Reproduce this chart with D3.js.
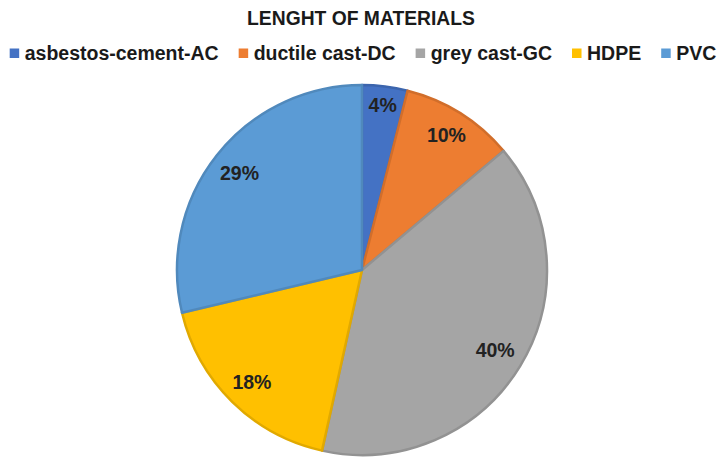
<!DOCTYPE html>
<html><head><meta charset="utf-8">
<script src="https://cdn.jsdelivr.net/npm/d3@7"></script>
<style>html,body{margin:0;padding:0;background:#fff;}svg{display:block;font-family:"Liberation Sans",Arial,sans-serif;}</style>
</head><body>
<svg id="c" width="718" height="459"></svg>
<script>
const title = "LENGHT OF MATERIALS";
const categories = ["asbestos-cement-AC", "ductile cast-DC", "grey cast-GC", "HDPE", "PVC"];
const values = [4, 10, 40, 18, 29];
const colors = ["#4472C4", "#ED7D31", "#A5A5A5", "#FFC000", "#5B9BD5"];

const svg = d3.select("#c");
const W = 718, H = 459;
const cx = 362, cy = 270, R = 185;

svg.append("text").attr("x", 361).attr("y", 25).attr("text-anchor", "middle")
  .style("font-size", "19.3px").style("font-weight", "bold").attr("fill", "#1a1a1a").text(title);

// legend
const leg = svg.append("g");
let x = 0;
categories.forEach((c, i) => {
  const g = leg.append("g");
  g.append("rect").attr("x", 0).attr("y", -4.5).attr("width", 9.5).attr("height", 9.5).attr("fill", colors[i]);
  const t = g.append("text").attr("x", 15).attr("y", 7).style("font-size", "19.5px").style("font-weight", "bold")
    .attr("fill", "#1a1a1a").text(c);
  const w = 15 + t.node().getComputedTextLength();
  g.attr("transform", `translate(${x},53)`);
  x += w + 20;
});
const total = x - 20;
leg.attr("transform", `translate(${(W - total) / 2 + 4},0)`);

const pie = d3.pie().sort(null).value(d => d);
const arcs = pie(values);
const arc = d3.arc().innerRadius(0).outerRadius(R);
const g = svg.append("g").attr("transform", `translate(${cx},${cy})`);
g.selectAll("path").data(arcs).enter().append("path")
  .attr("d", arc)
  .attr("fill", (d, i) => colors[i])
  .attr("stroke", (d, i) => d3.color(colors[i]).darker(0.35))
  .attr("stroke-width", 2.5)
  .attr("stroke-linejoin", "round");

// labels placed "inside end"
const labs = g.selectAll("text.lab").data(arcs).enter().append("text").attr("class", "lab")
  .attr("text-anchor", "middle").attr("dy", "0.35em")
  .style("font-size", "19.5px").style("font-weight", "bold").attr("fill", "#222")
  .text(d => d.data + "%");
labs.each(function(d) {
  const w = this.getComputedTextLength(), h = 18;
  const a = (d.startAngle + d.endAngle) / 2;
  const sx = Math.sin(a), sy = -Math.cos(a);
  const r = R - 8 - (w / 2) * Math.abs(sx) - (h / 2) * Math.abs(sy);
  d3.select(this).attr("x", r * sx).attr("y", r * sy);
});
</script>
</body></html>
